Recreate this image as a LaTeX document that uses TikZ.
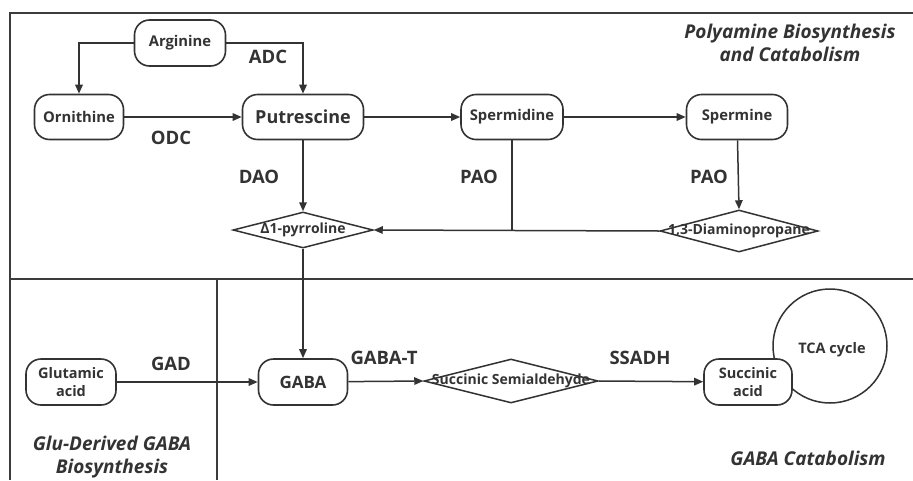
\documentclass[tikz,border=0pt]{standalone}
\usepackage{fontspec}
\setmainfont{Open Sans}
\usetikzlibrary{arrows.meta,shapes.geometric}
\definecolor{ink}{HTML}{333333}
\definecolor{frame}{HTML}{3C3C3C}
\begin{document}
\begin{tikzpicture}[x=1pt,y=-1pt,
  font=\bfseries, text=ink,
  rbox/.style={draw=ink, line width=1.6pt, rounded corners=15pt, fill=white,
    minimum height=45pt, inner sep=0pt, align=center, font=\fontsize{14.8}{17}\selectfont\bfseries},
  bigbox/.style={rbox, font=\fontsize{18}{21}\selectfont\bfseries},
  dmd/.style={draw=ink, line width=1.5pt, diamond, inner sep=0pt, fill=white},
  dtext/.style={font=\fontsize{14}{16}\selectfont\bfseries},
  enz/.style={font=\fontsize{18.5}{21}\selectfont\bfseries, inner sep=0pt},
  ttl/.style={font=\fontsize{19}{23}\selectfont\bfseries\itshape, align=center, inner sep=0pt},
  conn/.style={draw=ink, line width=1.5pt, -{Triangle[length=9pt,width=7.5pt]}},
  plain/.style={draw=ink, line width=1.5pt},
  frm/.style={draw=frame, line width=2pt}]
\useasboundingbox (0,0) rectangle (913,480);
\fill[white] (0,0) rectangle (913,480);
% frame
\coordinate (ftl) at (10,13);
\coordinate (ftr) at (913,13);
\coordinate (fbl) at (10,480);
\coordinate (dl) at (10,279);
\coordinate (dr) at (913,279);
\coordinate (vt) at (217,279);
\coordinate (vb) at (217,480);
\draw[frm] (ftr) -- (ftl) -- (fbl);
\draw[frm] (dl) -- (dr);
\draw[frm] (vt) -- (vb);
% titles
\node[ttl] (t1) at (790,43) {Polyamine Biosynthesis\\and Catabolism};
\node[ttl] (t2) at (112,457) {Glu-Derived GABA\\Biosynthesis};
\node[ttl] (t3) at (808,458) {GABA Catabolism};
% TCA circle (behind)
\node[draw=ink, line width=1.5pt, circle, minimum size=114pt, inner sep=0pt] (tca) at (830,346) {};
\node[font=\fontsize{14.5}{16}\selectfont\bfseries] (tcat) at (832,350) {TCA cycle};
% nodes
\node[rbox, minimum width=91pt, minimum height=46pt] (arg) at (180,43) {Arginine};
\node[rbox, minimum width=89pt] (orn) at (79,117) {Ornithine};
\node[bigbox, minimum width=121pt] (put) at (303,117) {Putrescine};
\node[rbox, minimum width=102pt] (spd) at (512,117) {Spermidine};
\node[rbox, minimum width=101pt] (spm) at (737,117) {Spermine};
\node[dmd, minimum width=140pt, minimum height=36pt, label={[dtext]center:Δ1-pyrroline}] (pyr) at (303,230) {};
\node[dmd, minimum width=158pt, minimum height=42pt, label={[dtext]center:1,3-Diaminopropane}] (dap) at (739,231) {};
\node[bigbox, minimum width=89pt, minimum height=46pt, font=\fontsize{17}{20}\selectfont\bfseries] (gaba) at (303,382) {GABA};
\node[rbox, minimum width=90pt, minimum height=46pt, font=\fontsize{14.5}{17.5}\selectfont\bfseries] (glu) at (71,382) {Glutamic\\acid};
\node[dmd, minimum width=174pt, minimum height=44pt, label={[dtext]center:Succinic Semialdehyde}] (ssa) at (511,381) {};
\node[rbox, minimum width=88pt, minimum height=46pt, font=\fontsize{14.5}{17.5}\selectfont\bfseries] (sua) at (748,382) {Succinic\\acid};
% enzyme labels
\node[enz] (adc) at (268,57) {ADC};
\node[enz] (odc) at (171,138) {ODC};
\node[enz] (dao) at (259,177) {DAO};
\node[enz] (pao1) at (479,177) {PAO};
\node[enz] (pao2) at (709,177) {PAO};
\node[enz] (gad) at (171,364) {GAD};
\node[enz] (gabat) at (384,358) {GABA-T};
\node[enz] (ssadh) at (640,358) {SSADH};
% connectors
\draw[conn] (arg.west) -| (orn.north);
\draw[conn] (arg.east) -| (put.north);
\draw[conn] (orn) -- (put);
\draw[conn] (put) -- (spd);
\draw[conn] (spd) -- (spm);
\draw[conn] (put) -- (pyr.north);
\draw[conn] (spm) -- (dap.north);
\draw[conn] (dap.west) -- (pyr.east);
\draw[plain] (spd.south) -- (spd.south |- pyr.east);
\draw[conn] (pyr.south) -- (gaba.north);
\draw[conn] (glu) -- (gaba);
\draw[conn] (gaba) -- (ssa.west);
\draw[conn] (ssa.east) -- (sua);
\end{tikzpicture}
\end{document}
